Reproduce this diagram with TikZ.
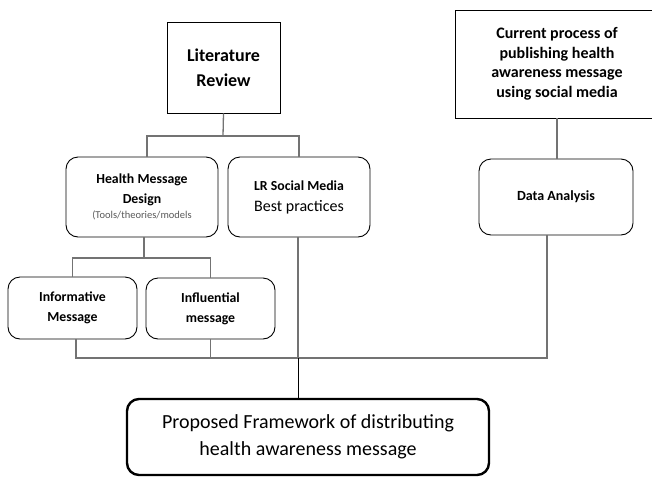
\documentclass[tikz,border=0pt]{standalone}
\usepackage{fontspec}
\setmainfont{Carlito}
\usetikzlibrary{positioning}

\tikzset{
	box/.style={rectangle, draw=black, line width=0.9pt, align=center, inner sep=0pt},
	roundbox/.style={box, rounded corners=12pt},
	link/.style={draw=black!55, line width=1.3pt},
}

\begin{document}
\begin{tikzpicture}[x=1pt, y=-1pt]
	\useasboundingbox (0,0) rectangle (652,477);
	\clip (0,0) rectangle (652,477);
	\pgfmathsetmacro{\xleft}{223}
	\pgfmathsetmacro{\xright}{557}

	\node[box, minimum width=113, minimum height=91, font=\fontsize{18}{25}\selectfont\bfseries] (litrev) at (\xleft+0.5,67.5) {Literature\\Review};
	\node[box, minimum width=204, minimum height=108, font=\fontsize{16}{19.5}\selectfont\bfseries] (current) at (\xright,64) {Current process of\\publishing health\\awareness message\\using social media};

	\node[roundbox, minimum width=152, minimum height=80, font=\fontsize{13.8}{20}\selectfont\bfseries] (hmd) at (142,197) {Health Message\\Design\\[-5pt]\fontsize{10.5}{20}\selectfont\mdseries\color{black!65}(Tools/theories/models};
	\node[roundbox, minimum width=142, minimum height=80, font=\fontsize{13.8}{21}\selectfont\bfseries] (lrsm) at (299,197) {LR Social Media\\\fontsize{16}{21}\selectfont\mdseries Best practices};
	\node[roundbox, minimum width=154, minimum height=76, font=\fontsize{14}{20}\selectfont\bfseries] (da) at (\xright-1,197) {Data Analysis};

	\node[roundbox, minimum width=129, minimum height=62, font=\fontsize{13.8}{20}\selectfont\bfseries] (info) at (72.5,308) {Informative\\Message};
	\node[roundbox, minimum width=129, minimum height=61, font=\fontsize{13.8}{20}\selectfont\bfseries] (infl) at (210.5,308.5) {Influential\\message};

	\node[roundbox, line width=2.4pt, minimum width=362, minimum height=76, font=\fontsize{20}{27}\selectfont] (proposed) at (308,437) {Proposed Framework of distributing\\health awareness message};

	\coordinate (split) at (\xleft,136);
	\coordinate (hsplit) at (144,258);
	\coordinate (merge) at (298,358);

	%Lines from the top boxes
	\draw[link] (litrev.south) -- (split);
	\draw[link] ([xshift=5]hmd.north) |- (split) -| (lrsm.north);
	\draw[link] (current.south) -- (da.north -| current.south);

	%Lines from health message design
	\draw[link] (hmd.south -| hsplit) -- (hsplit);
	\draw[link] (info.north) |- (hsplit) -| (infl.north);

	%Lines into the framework
	\draw[link] ([xshift=3.5]info.south) |- ([xshift=-9]da.south |- merge) -- ([xshift=-9]da.south);
	\draw[link] (infl.south) -- (infl.south |- merge);
	\draw[link] (lrsm.south -| merge) -- (merge);
	\draw[black, line width=0.8pt] (merge) -- (proposed.north -| merge);
\end{tikzpicture}
\end{document}
